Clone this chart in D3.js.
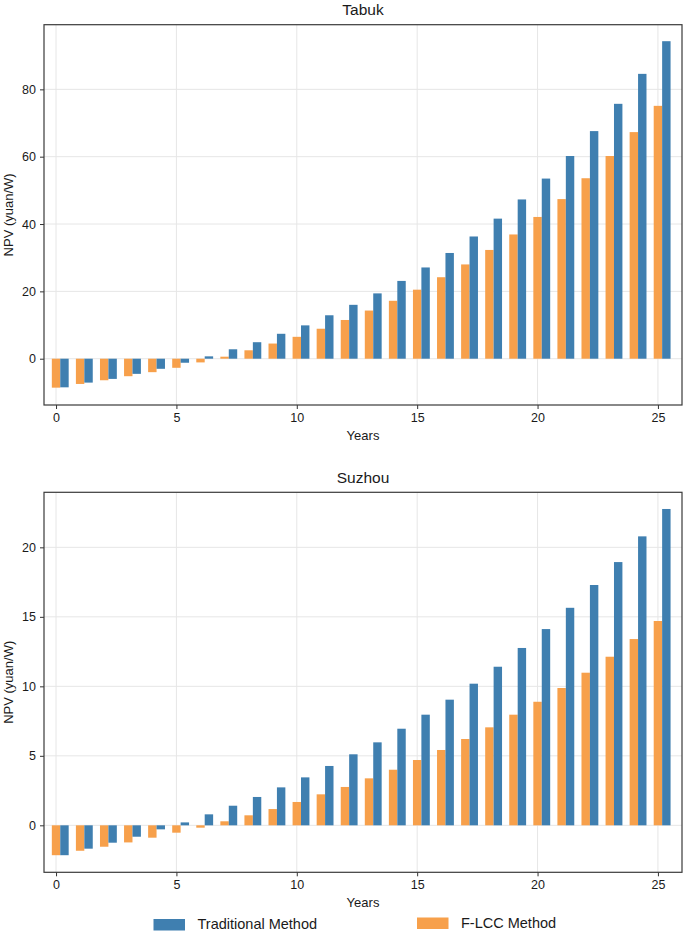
<!DOCTYPE html>
<html><head><meta charset="utf-8">
<script src="https://cdn.jsdelivr.net/npm/d3@7"></script>
<style>
body{margin:0;background:#fff;}
text{font-family:"Liberation Sans",Arial,Helvetica,sans-serif;fill:#1a1a1a;}
</style></head><body>
<svg id="c" width="685" height="936"></svg>
<script>
const years = d3.range(0, 26);
const tabukTraditional = [-8.5,-7.1,-6.0,-4.5,-3.0,-1.2,0.7,2.8,4.9,7.4,9.9,12.9,16.0,19.4,23.1,27.1,31.4,36.3,41.6,47.3,53.5,60.2,67.6,75.7,84.6,94.3];
const tabukFLCC = [-8.6,-7.5,-6.4,-5.2,-4.0,-2.7,-1.1,0.6,2.5,4.5,6.5,8.9,11.5,14.3,17.2,20.5,24.2,28.0,32.3,36.9,42.1,47.4,53.6,60.2,67.3,75.1];
const suzhouTraditional = [-2.15,-1.68,-1.25,-0.82,-0.29,0.21,0.79,1.41,2.04,2.73,3.45,4.27,5.11,5.97,6.95,7.96,9.04,10.19,11.41,12.76,14.12,15.65,17.29,18.94,20.79,22.76];
const suzhouFLCC = [-2.15,-1.83,-1.54,-1.23,-0.89,-0.53,-0.17,0.29,0.72,1.17,1.68,2.23,2.76,3.38,4.0,4.70,5.42,6.21,7.05,7.96,8.89,9.88,10.98,12.13,13.40,14.70];
const xTicks = [0,5,10,15,20,25];
const tabukYTicks = [0,20,40,60,80];
const suzhouYTicks = [0,5,10,15,20];
const seriesNames = ["Traditional Method","F-LCC Method"];
const colors = {trad:"#3f7fb0", flcc:"#f7a04b"};

const svg = d3.select("#c");
const L = 44, R = 682, barW = 0.35;

function panel(opts){
  const {top, bottom, ydom, yTicks, trad, flcc, title} = opts;
  const x = d3.scaleLinear().domain([-0.5, 26]).range([L, R]);
  const y = d3.scaleLinear().domain(ydom).range([bottom, top]);
  const g = svg.append("g");
  // grid
  g.append("g").selectAll("line.v").data(xTicks).join("line")
    .attr("x1", d=>x(d)).attr("x2", d=>x(d)).attr("y1", top).attr("y2", bottom)
    .attr("stroke","#e6e6e6").attr("stroke-width",1);
  g.append("g").selectAll("line.h").data(yTicks).join("line")
    .attr("y1", d=>y(d)).attr("y2", d=>y(d)).attr("x1", L).attr("x2", R)
    .attr("stroke","#e6e6e6").attr("stroke-width",1);
  // bars
  g.append("g").selectAll("rect").data(years).join("rect")
    .attr("x", d=>x(d - barW/2)).attr("width", x(barW)-x(0))
    .attr("y", (d,i)=>y(Math.max(0, flcc[i])))
    .attr("height", (d,i)=>Math.abs(y(flcc[i]) - y(0)))
    .attr("fill", colors.flcc);
  g.append("g").selectAll("rect").data(years).join("rect")
    .attr("x", d=>x(d + barW/2)).attr("width", x(barW)-x(0))
    .attr("y", (d,i)=>y(Math.max(0, trad[i])))
    .attr("height", (d,i)=>Math.abs(y(trad[i]) - y(0)))
    .attr("fill", colors.trad);
  // axes
  const xa = g.append("g").attr("transform", `translate(0,${bottom})`)
    .call(d3.axisBottom(x).tickValues(xTicks).tickSize(4).tickPadding(4).tickFormat(d3.format("d")));
  const ya = g.append("g").attr("transform", `translate(${L},0)`)
    .call(d3.axisLeft(y).tickValues(yTicks).tickSize(4).tickPadding(4).tickFormat(d3.format("d")));
  [xa, ya].forEach(a=>{
    a.select(".domain").remove();
    a.selectAll("line").attr("stroke","#333");
    a.selectAll("text").style("font-size","12.5px").attr("fill","#1a1a1a");
  });
  // frame
  g.append("rect").attr("x", L).attr("y", top).attr("width", R-L).attr("height", bottom-top)
    .attr("fill","none").attr("stroke","#3a3a3a").attr("stroke-width",1.2);
  // title
  g.append("text").attr("x", (L+R)/2).attr("y", top-9.5).attr("text-anchor","middle")
    .style("font-size","15.5px").text(title);
  g.append("text").attr("x", (L+R)/2).attr("y", bottom+34.5).attr("text-anchor","middle")
    .style("font-size","13px").text("Years");
  g.append("text").attr("transform", `translate(13,${(top+bottom)/2}) rotate(-90)`)
    .attr("text-anchor","middle").style("font-size","13px").text("NPV (yuan/W)");
}

panel({top:24.7, bottom:405, ydom:[-13.75, 99.2], yTicks:tabukYTicks, trad:tabukTraditional, flcc:tabukFLCC, title:"Tabuk"});
panel({top:492.3, bottom:872.3, ydom:[-3.38, 23.96], yTicks:suzhouYTicks, trad:suzhouTraditional, flcc:suzhouFLCC, title:"Suzhou"});

// legend
const leg = svg.append("g");
const legItems = [
  {name: seriesNames[0], color: colors.trad, px: 153.5, ty: 929, py: 919},
  {name: seriesNames[1], color: colors.flcc, px: 417, ty: 928, py: 917.5}
];
legItems.forEach(it=>{
  leg.append("rect").attr("x", it.px).attr("y", it.py).attr("width", 31.5).attr("height", 11.5).attr("fill", it.color);
  leg.append("text").attr("x", it.px + 44).attr("y", it.ty).style("font-size","14.5px").text(it.name);
});
</script>
</body></html>
